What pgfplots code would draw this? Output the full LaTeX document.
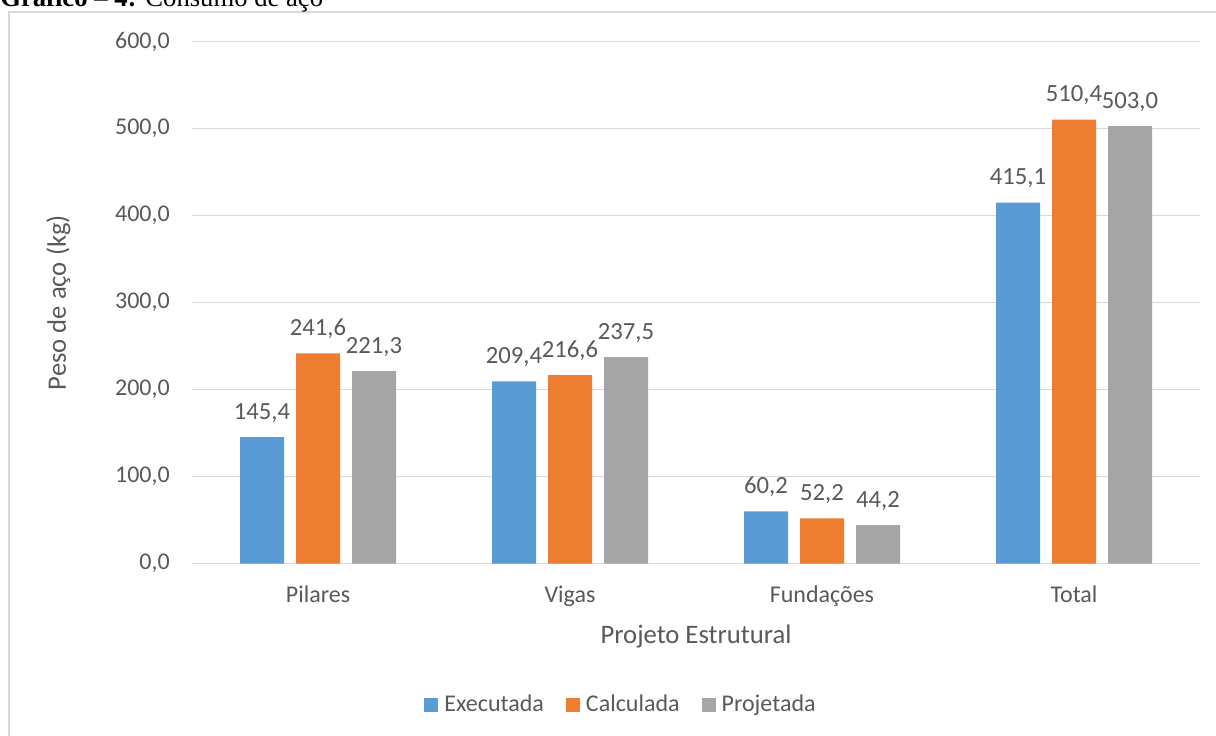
\documentclass[border=0pt]{standalone}
\usepackage{pgfplots}
\pgfplotsset{compat=1.18}
\usepackage{fontspec}
\setmainfont{Carlito}
\newfontfamily\timesfont{Liberation Serif}
\definecolor{cblue}{HTML}{5B9BD5}
\definecolor{corange}{HTML}{ED7D31}
\definecolor{cgray}{HTML}{A5A5A5}
\definecolor{gridc}{HTML}{D9D9D9}
\definecolor{txtc}{HTML}{595959}
\begin{document}
\begin{tikzpicture}
\path[use as bounding box] (0pt,0pt) rectangle (912pt,551.25pt);
\draw[gridc, line width=1.4pt] (6.75pt,-5pt) -- (6.75pt,542.25pt) -- (920pt,542.25pt);
\node[anchor=base west, inner sep=0pt] at (0pt,546.5pt) {\timesfont\fontsize{20}{24}\selectfont\textbf{Gráfico – 4:} Consumo de aço};
\begin{axis}[
  at={(144pt,128.5pt)}, anchor=south west,
  scale only axis, width=756pt, height=391.5pt,
  xmin=-0.5, xmax=3.5, ymin=0, ymax=600,
  enlargelimits=false,
  ybar=9pt, bar width=33pt,
  xtick={0,1,2,3},
  xticklabels={Pilares,Vigas,Fundações,Total},
  ytick={0,100,...,600},
  major tick length=0pt,
  axis x line=bottom, axis y line=left,
  x axis line style={-, draw=gridc, line width=1.1pt},
  y axis line style={draw=none},
  ymajorgrids, grid style={draw=gridc, line width=1.1pt},
  /pgf/number format/.cd, fixed, fixed zerofill, precision=1, use comma, assume math mode=true,
  /pgfplots/.cd,
  yticklabel style={anchor=east, inner sep=0pt, xshift=-16.5pt, font=\fontsize{18}{21}\selectfont, text=txtc},
  xticklabel style={anchor=base, inner sep=0pt, yshift=-29.3pt, font=\fontsize{18}{21}\selectfont, text=txtc},
  xlabel={Projeto Estrutural},
  ylabel={Peso de aço (kg)},
  xlabel style={at={(axis description cs:0.5,-0.152)}, anchor=base, inner sep=0pt, font=\fontsize{20}{24}\selectfont, text=txtc},
  ylabel style={at={(axis description cs:-0.125,0.5)}, anchor=base, inner sep=0pt, font=\fontsize{20}{24}\selectfont, text=txtc},
  nodes near coords,
  every node near coord/.append style={anchor=base, yshift=13.5pt, inner sep=0pt, font=\fontsize{18.5}{21}\selectfont, text=txtc},
  legend columns=-1,
  legend style={at={(0.4276,-0.270)}, anchor=center, draw=none, fill=none,
    font=\fontsize{18}{21}\selectfont, text=txtc,
    nodes={inner xsep=4.5pt, inner ysep=0pt},
    /tikz/every even column/.append style={column sep=12pt}},
  legend image code/.code={\draw[#1, draw=none] (0pt,-5.25pt) rectangle (10.5pt,5.25pt);},
]
\addplot[fill=cblue, draw=none] coordinates {(0,145.4) (1,209.4) (2,60.2) (3,415.1)};
\addplot[fill=corange, draw=none] coordinates {(0,241.6) (1,216.6) (2,52.2) (3,510.4)};
\addplot[fill=cgray, draw=none] coordinates {(0,221.3) (1,237.5) (2,44.2) (3,503.0)};
\legend{Executada,Calculada,Projetada}
\end{axis}
\end{tikzpicture}
\end{document}
